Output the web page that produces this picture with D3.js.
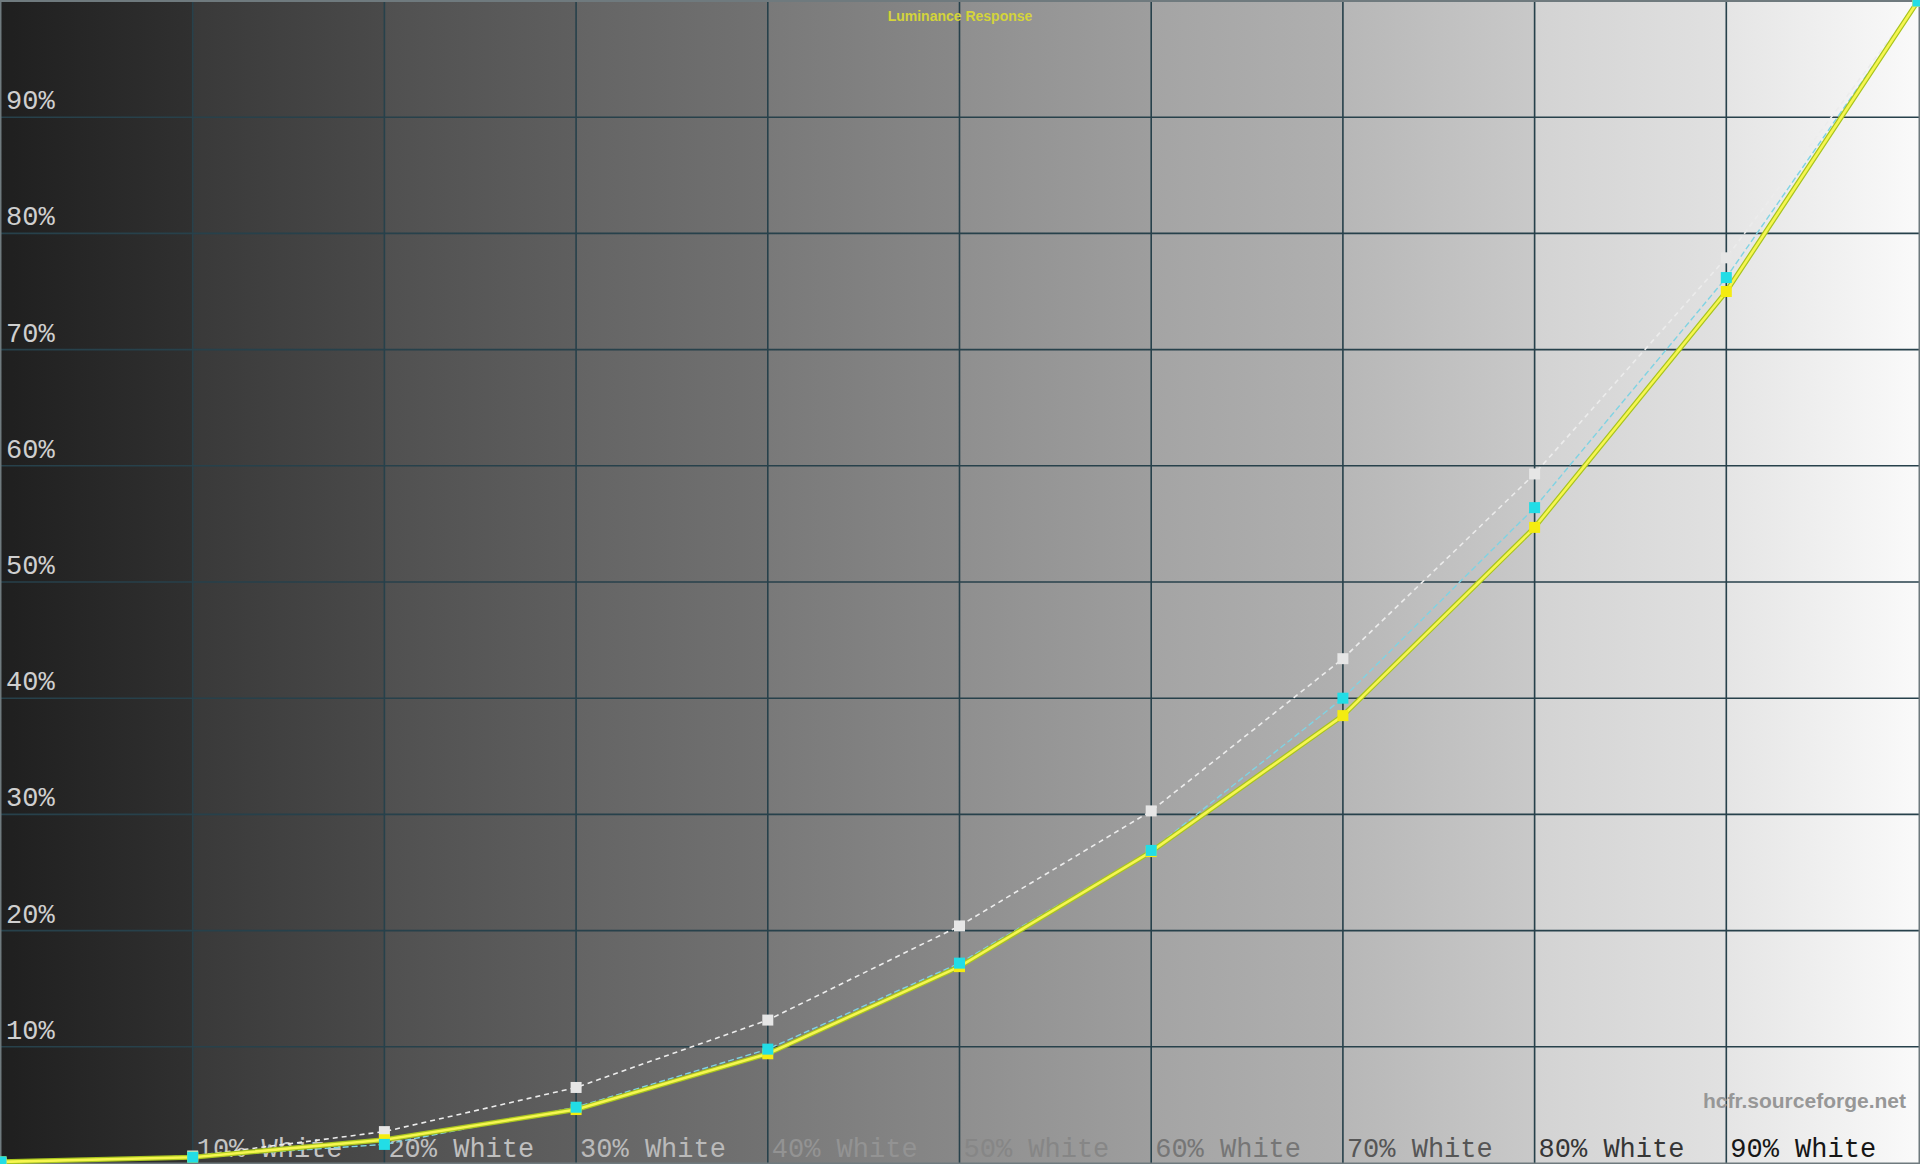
<!DOCTYPE html>
<html>
<head>
<meta charset="utf-8">
<script src="https://cdn.jsdelivr.net/npm/d3@7"></script>
<style>
  body { margin: 0; background: #000; overflow: hidden; }
</style>
</head>
<body>
<script>
// stimulus levels (% white) and luminance readings (% of peak)
const levels = [0, 10, 20, 30, 40, 50, 60, 70, 80, 90, 100];
const referenceY = [0, 0.6, 2.7, 6.5, 12.3, 20.4, 30.3, 43.4, 59.3, 77.9, 100];
const cyanY = [0.1, 0.5, 1.6, 4.8, 9.8, 17.2, 26.9, 40.0, 56.4, 76.2, 100];
const measuredY = [0.1, 0.5, 2.0, 4.6, 9.4, 16.9, 26.8, 38.5, 54.7, 75.0, 100];
const yTicks = [10, 20, 30, 40, 50, 60, 70, 80, 90];
const xTicks = [10, 20, 30, 40, 50, 60, 70, 80, 90];

const m = {
  width: 1920,
  height: 1164
}

// left / right grey of each 10% band
const bands = [
  ["#1f1f1f", "#303030"], ["#393939", "#4a4a4a"], ["#505050", "#5f5f5f"],
  ["#646464", "#727272"], ["#797979", "#888888"], ["#8f8f8f", "#9e9e9e"],
  ["#a4a4a4", "#b0b0b0"], ["#b7b7b7", "#c9c9c9"], ["#d3d3d3", "#e1e1e1"],
  ["#e5e5e5", "#fafafa"]
];

let svg = d3.select("body")
  .append("svg")
  .attr("width", m.width)
  .attr("height", m.height);

let x = d3.scaleLinear().domain([0, 100]).range([1, 1918]);
let y = d3.scaleLinear().domain([0, 100]).range([1163, 1]);

// background
let grad = svg.append("defs").append("linearGradient")
  .attr("id", "bg")
  .attr("gradientUnits", "userSpaceOnUse")
  .attr("x1", 0).attr("x2", m.width)
  .attr("y1", 0).attr("y2", 0);

bands.forEach((b, i) => {
  grad.append("stop").attr("offset", i * 10 + "%").attr("stop-color", b[0]);
  grad.append("stop").attr("offset", (i + 1) * 10 + "%").attr("stop-color", b[1]);
});

svg.append("rect")
  .attr("width", m.width)
  .attr("height", m.height)
  .attr("fill", "url(#bg)");

// grid
let grid = svg.append("g")
  .attr("stroke", "#27414b")
  .attr("stroke-width", 1.6);

grid.selectAll("line.v")
  .data(xTicks)
  .enter()
  .append("line")
  .attr("class", "v")
  .attr("x1", d => x(d)).attr("x2", d => x(d))
  .attr("y1", 0).attr("y2", m.height);

grid.selectAll("line.h")
  .data(yTicks)
  .enter()
  .append("line")
  .attr("class", "h")
  .attr("x1", 0).attr("x2", m.width)
  .attr("y1", d => y(d)).attr("y2", d => y(d));

svg.append("rect")
  .attr("x", 0.5).attr("y", 1)
  .attr("width", m.width - 1).attr("height", m.height - 1.5)
  .attr("fill", "none")
  .attr("stroke", "#6f7a7e")
  .attr("stroke-width", 2);

// axis labels
svg.append("g").selectAll("text")
  .data(yTicks)
  .enter()
  .append("text")
  .attr("x", 6)
  .attr("y", d => y(d) - 8)
  .attr("font-family", "'Liberation Mono', monospace")
  .attr("font-size", 27)
  .attr("fill", "#cfcfcf")
  .text(d => d + "%");

let labelColor = d3.scaleLinear()
  .domain([10, 30, 40, 50, 60, 90])
  .range(["#c4c4c4", "#bababa", "#939393", "#868686", "#767676", "#161616"]);

svg.append("g").selectAll("text")
  .data(xTicks)
  .enter()
  .append("text")
  .attr("x", d => x(d) + 4)
  .attr("y", 1157)
  .attr("font-family", "'Liberation Mono', monospace")
  .attr("font-size", 27)
  .attr("fill", d => labelColor(d))
  .text(d => d + "% White");

svg.append("text")
  .attr("x", m.width / 2)
  .attr("y", 21)
  .attr("text-anchor", "middle")
  .attr("font-family", "'Liberation Sans', Arial, sans-serif")
  .attr("font-weight", "bold")
  .attr("font-size", 14)
  .attr("fill", "#d4d43a")
  .text("Luminance Response");

svg.append("text")
  .attr("x", 1906)
  .attr("y", 1108)
  .attr("text-anchor", "end")
  .attr("font-family", "'Liberation Sans', Arial, sans-serif")
  .attr("font-weight", "bold")
  .attr("font-size", 21)
  .attr("fill", "#979797")
  .text("hcfr.sourceforge.net");

// curves
let line = d3.line()
  .x((d, i) => x(levels[i]))
  .y(d => y(d));

svg.append("path")
  .attr("d", line(referenceY))
  .attr("fill", "none")
  .attr("stroke", "#ececec")
  .attr("stroke-width", 1.6)
  .attr("stroke-dasharray", "5 4");

svg.append("path")
  .attr("d", line(cyanY))
  .attr("fill", "none")
  .attr("stroke", "#7fd3e3")
  .attr("stroke-width", 1.4)
  .attr("stroke-dasharray", "6 3");

svg.append("path")
  .attr("d", line(measuredY))
  .attr("fill", "none")
  .attr("stroke", "#a8c41e")
  .attr("stroke-width", 5);

svg.append("path")
  .attr("d", line(measuredY))
  .attr("fill", "none")
  .attr("stroke", "#f6f650")
  .attr("stroke-width", 2.6);

// markers
const s = 11;
let markers = [
  [referenceY, "#e6e6e6"],
  [measuredY, "#f4ec10"],
  [cyanY, "#22dde6"]
];

markers.forEach(mk => {
  svg.append("g").selectAll("rect")
    .data(mk[0])
    .enter()
    .append("rect")
    .attr("x", (d, i) => x(levels[i]) - s / 2)
    .attr("y", d => y(d) - s / 2)
    .attr("width", s)
    .attr("height", s)
    .attr("fill", mk[1]);
});
</script>
</body>
</html>
